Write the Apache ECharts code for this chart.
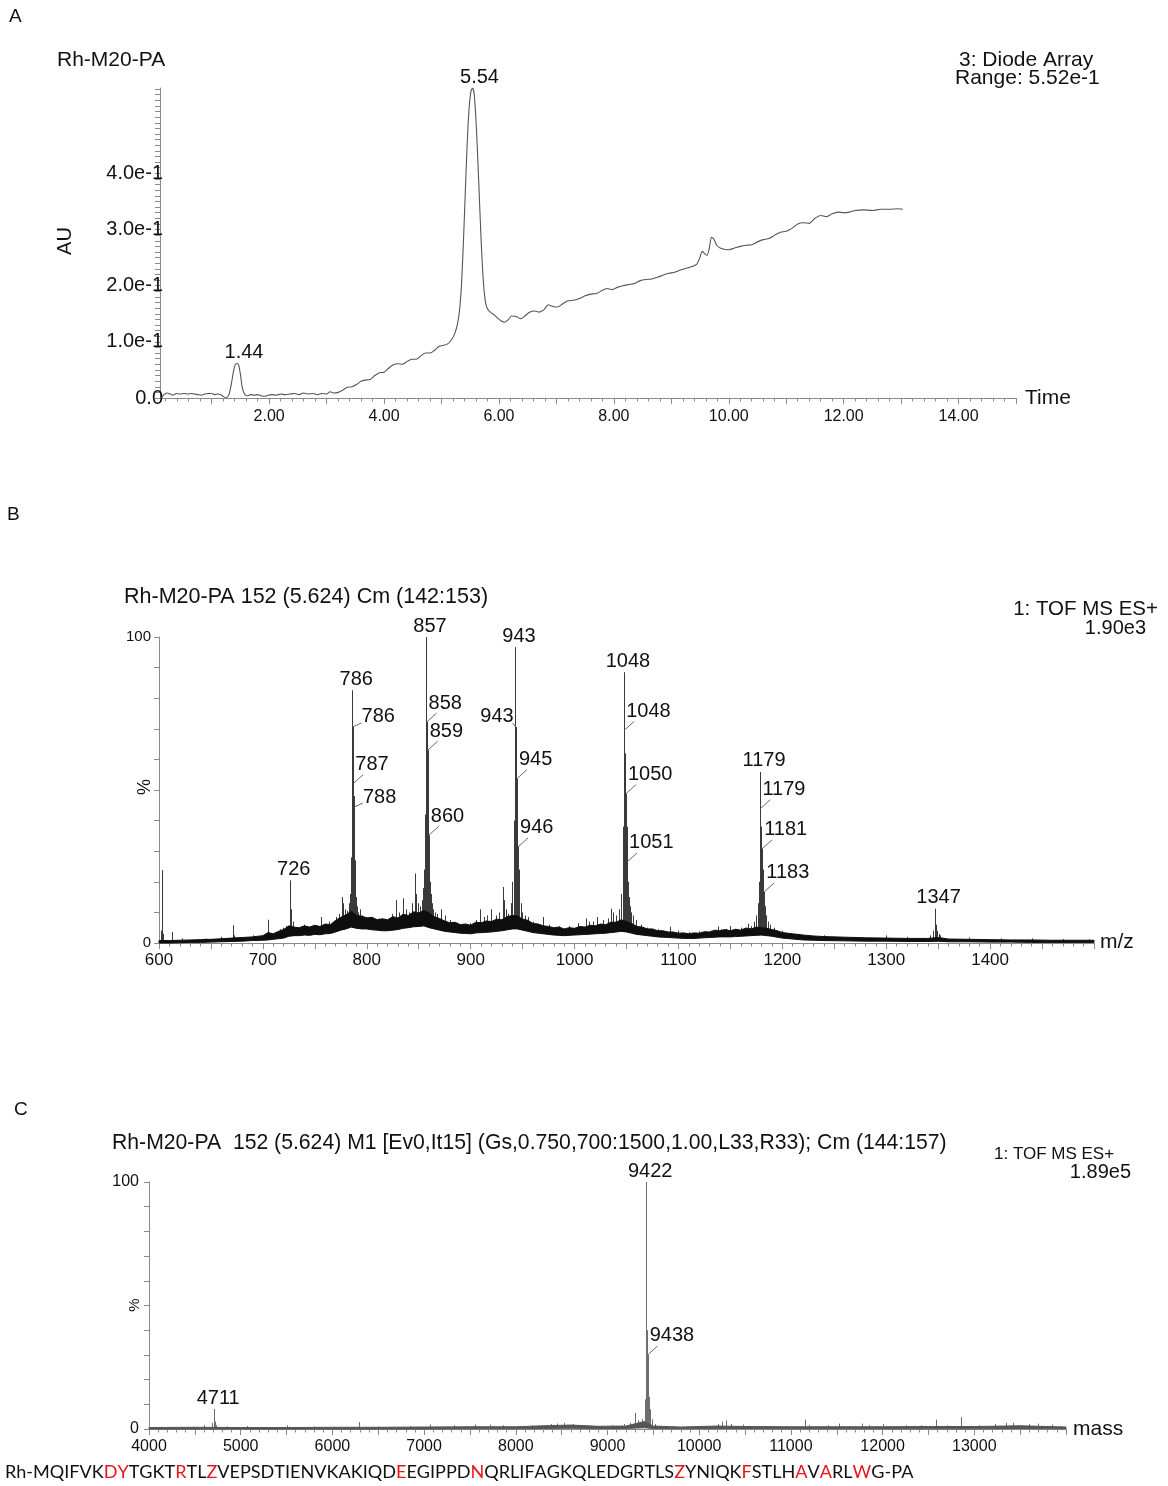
<!DOCTYPE html>
<html>
<head>
<meta charset="utf-8">
<title>Rh-M20-PA LC-MS</title>
<script src="https://cdn.jsdelivr.net/npm/echarts@6/dist/echarts.min.js"></script>
<style>
  html, body { margin: 0; padding: 0; background: #ffffff; }
  #main { width: 1168px; height: 1486px; }
</style>
</head>
<body>
<div id="main"></div>
<script>
// ---------- Panel A: UV chromatogram (time / min, absorbance / AU) ----------
const chromTime = [0.12,0.17,0.22,0.28,0.33,0.38,0.45,0.52,0.58,0.64,0.70,0.76,0.82,0.88,0.94,1.00,1.05,1.10,1.16,1.21,1.26,1.30,1.34,1.38,1.41,1.44,1.47,1.50,1.53,1.57,1.62,1.68,1.74,1.80,1.86,1.92,1.98,2.05,2.12,2.20,2.28,2.36,2.44,2.52,2.60,2.68,2.76,2.84,2.92,3.00,3.06,3.12,3.20,3.28,3.36,3.44,3.52,3.60,3.68,3.76,3.84,3.92,4.00,4.08,4.16,4.24,4.32,4.40,4.48,4.56,4.64,4.72,4.80,4.88,4.96,5.04,5.10,5.16,5.22,5.27,5.31,5.35,5.39,5.43,5.47,5.51,5.54,5.57,5.61,5.65,5.69,5.73,5.77,5.81,5.86,5.92,5.98,6.04,6.10,6.16,6.22,6.30,6.38,6.46,6.54,6.62,6.70,6.78,6.86,6.94,7.02,7.10,7.20,7.30,7.40,7.50,7.60,7.70,7.80,7.88,7.97,8.06,8.16,8.26,8.36,8.46,8.56,8.66,8.76,8.86,8.96,9.06,9.16,9.26,9.36,9.44,9.49,9.54,9.58,9.62,9.66,9.70,9.74,9.79,9.85,9.92,10.00,10.10,10.20,10.30,10.40,10.50,10.60,10.70,10.80,10.90,11.00,11.10,11.20,11.30,11.40,11.50,11.60,11.70,11.80,11.90,12.00,12.10,12.20,12.35,12.50,12.65,12.80,12.95,13.03];
const chromAU = [0.000,0.006,0.009,0.007,0.005,0.008,0.007,0.008,0.007,0.008,0.007,0.006,0.005,0.007,0.008,0.008,0.006,0.007,0.006,0.002,0.001,0.006,0.024,0.048,0.059,0.062,0.058,0.042,0.020,0.007,0.004,0.006,0.005,0.006,0.004,0.003,0.005,0.006,0.005,0.007,0.006,0.007,0.008,0.006,0.009,0.007,0.008,0.006,0.008,0.007,0.011,0.009,0.010,0.014,0.019,0.020,0.024,0.030,0.032,0.033,0.040,0.045,0.046,0.053,0.059,0.061,0.060,0.065,0.069,0.069,0.075,0.080,0.080,0.085,0.092,0.094,0.096,0.102,0.112,0.128,0.152,0.205,0.300,0.410,0.500,0.545,0.552,0.540,0.475,0.380,0.280,0.205,0.168,0.157,0.152,0.148,0.142,0.137,0.135,0.139,0.146,0.145,0.141,0.147,0.153,0.155,0.153,0.157,0.166,0.163,0.162,0.167,0.173,0.174,0.177,0.182,0.185,0.186,0.192,0.195,0.193,0.197,0.200,0.202,0.204,0.209,0.211,0.212,0.215,0.219,0.222,0.224,0.228,0.231,0.234,0.238,0.248,0.261,0.257,0.254,0.266,0.286,0.283,0.272,0.267,0.265,0.264,0.267,0.270,0.272,0.273,0.278,0.282,0.284,0.290,0.295,0.297,0.302,0.310,0.312,0.311,0.320,0.325,0.323,0.328,0.331,0.330,0.331,0.334,0.335,0.334,0.336,0.336,0.337,0.336];
const chromPeakTimes = [1.44, 5.54];
const chromRange = 0.552;
const timeTickLabels = [2, 4, 6, 8, 10, 12, 14];
const auTickLabels = [0, 0.1, 0.2, 0.3, 0.4];

// ---------- Panel B: ESI spectrum (m/z, relative intensity %) ----------
// noise floor of the raw spectrum: lower and upper edge of the dense trace
const mzBandMz   = [600,610,620,630,640,650,660,670,680,690,700,705,710,715,720,725,730,735,740,745,750,755,760,765,770,775,780,785,790,795,800,805,810,815,820,825,830,835,840,845,850,855,860,865,870,875,880,885,890,895,900,905,910,915,920,925,930,935,940,945,950,955,960,965,970,975,980,985,990,995,1000,1005,1010,1015,1020,1025,1030,1035,1040,1045,1050,1055,1060,1065,1070,1075,1080,1085,1090,1095,1100,1105,1110,1115,1120,1125,1130,1135,1140,1145,1150,1155,1160,1165,1170,1175,1180,1185,1190,1195,1200,1210,1220,1230,1240,1260,1280,1300,1320,1340,1350,1360,1380,1400,1420,1440,1460,1480,1500];
const mzBandLow  = [0,0,0.1,0.2,0.2,0.3,0.4,0.5,0.6,0.8,0.9,1.0,1.2,1.4,1.6,2.2,2.4,2.4,2.6,2.5,2.8,2.7,3.0,3.1,3.6,4.2,4.6,5.2,4.8,4.6,4.6,4.3,4.2,4.0,4.0,4.2,4.4,4.8,5.0,5.3,5.4,5.6,5.0,4.6,4.2,3.8,3.6,3.4,3.2,3.1,3.0,3.3,3.4,3.5,3.6,3.8,4.0,4.3,4.6,4.6,4.2,3.8,3.4,3.2,3.0,2.8,2.6,2.5,2.4,2.5,2.6,2.7,2.8,2.9,3.0,3.1,3.2,3.4,3.6,3.8,3.6,3.2,2.8,2.6,2.4,2.2,2.0,1.9,1.8,1.7,1.6,1.5,1.5,1.5,1.6,1.7,1.8,1.9,2.0,2.0,2.0,2.1,2.2,2.3,2.4,2.5,2.6,2.4,2.2,1.9,1.6,1.3,1.0,0.9,0.8,0.7,0.6,0.6,0.5,0.5,0.6,0.4,0.4,0.3,0.3,0.2,0.2,0.2,0.2];
const mzBandHigh = [0.8,0.8,0.9,1.0,1.1,1.2,1.4,1.6,1.8,2.0,2.4,3.4,3.0,3.8,4.4,5.6,5.2,5.0,5.6,5.2,5.8,5.4,6.2,6.0,7.4,8.4,9.2,10.4,9.0,8.8,8.2,8.4,7.6,7.9,7.6,8.6,8.2,9.4,9.0,10.2,9.8,10.6,9.8,8.6,8.0,7.2,6.6,6.8,6.0,6.2,5.8,6.8,6.6,7.2,7.0,7.8,7.6,8.6,9.0,8.8,7.8,7.4,6.4,6.2,5.6,5.4,5.0,5.2,4.6,5.0,4.8,5.4,5.2,5.8,5.6,6.2,6.0,6.8,6.8,7.6,7.0,6.4,5.4,5.2,4.6,4.6,4.0,4.0,3.6,3.6,3.2,3.3,3.0,3.3,3.2,3.7,3.6,4.2,4.0,4.4,4.0,4.5,4.2,4.9,4.6,5.2,5.0,4.8,4.4,4.0,3.4,3.0,2.6,2.3,2.1,1.9,1.7,1.6,1.5,1.5,1.8,1.3,1.2,1.1,1.0,1.0,0.9,0.9,0.9];
// resolved peaks (centroid m/z, relative intensity %)
const mzPeakMz  = [601.6,602.6,603.2,604,612.8,622,645,660,671.6,672.5,690,704.6,705.5,716,719,722,725.8,726.6,727.5,729,740,745,755.6,764,770,773,775.8,777,779,781,783,784.2,785,785.5,786.0,786.3,786.6,787.0,787.3,787.6,788.0,788.5,789.0,789.6,790.5,791.5,793,795,799,805,812,818,824,828,831,835,838,841,844,846.5,847.3,849,851,853,854.5,855.5,856.3,857.0,857.3,857.6,858.0,858.6,859.0,859.3,859.7,860.2,860.8,861.5,862.5,864,866,868,871.5,875,880,886,893,899,905,909,913,916,920,924,927,930.7,932,934,936,938.5,940,941.3,942.0,942.7,943.0,943.3,943.8,944.5,945.0,945.6,946.2,947,948,949.5,952,955,960,969.6,975,985,995,1003,1011,1014,1018,1022,1027,1032,1035,1037,1040,1043,1045,1046.2,1046.9,1047.5,1047.8,1048.2,1048.8,1049.5,1050.0,1050.6,1051.2,1052,1053,1054.5,1056,1059,1064,1070,1080,1091.8,1100,1110,1120,1130,1137.7,1141,1146,1150,1155,1160,1166.6,1170,1173,1175,1176.5,1177.5,1178.6,1178.9,1179.3,1179.8,1180.6,1181.2,1181.8,1182.6,1183.5,1184.5,1186,1188,1192,1200,1215,1240,1270,1300,1320,1342,1345,1346.5,1347.2,1348,1349,1350.5,1352,1380,1410,1440,1470,1495];
const mzPeakInt = [4,23.8,10,3,3.6,1.5,1.5,2,5.8,2.5,2.5,7.6,3,4.5,5,5.5,20.5,11,8,7,6,5.5,8.5,7,8.5,9.5,15,13,11,10.5,13,16,28,35,82.6,70.6,60,52.1,48,44.4,36,27,20,15,12,10,11,9,8.5,8.5,8,7.5,9.5,14,10,14.6,11,10,13,22.7,16,13,12,14,18,24,42,100,85,72.2,68,63.0,50,42,35.2,27,20,16,13,11,10,9.5,11,9,7.5,6.5,6,6.5,7.5,11,8.5,9,11,9,10,18.3,14,11,9.5,13,20,28,40,96.7,82,70.6,62,53.7,45,31.4,24,18,13,10,9,8.5,7,8.5,6,5.5,5.5,6.5,8,7,7,8.5,7.5,8,11.2,10,9,11,16,25,38,88.5,69.5,62,55,48.8,38,26.5,20,15,12,10,9,7.5,6,5,4.5,5.3,4,3.5,3.8,4,5.4,4.5,4.5,5.5,4.5,5,6.3,5.5,7,9,13,20,55.9,43.9,38,34,30.8,24,20,16.7,12,9,7,6,5,4,3,2.5,2,2.5,2,2.5,4,11.2,7,6,4,3,2.5,1.8,1.5,1.5,1.3,1.2];
const mzLabelMz    = [725.8,786.0,786.3,787.0,787.6,857.0,857.6,858.6,859.7,942.7,943.3,944.5,945.6,1047.5,1047.8,1049.5,1050.6,1178.6,1178.9,1180.6,1182.6,1346.5];
const mzLabelPlace = ['top','top','near','far','near','top','far','far','far','top','left','far','far','top','far','far','far','top','far','far','far','top'];
const mzTickLabels = [600, 700, 800, 900, 1000, 1100, 1200, 1300, 1400];

// ---------- Panel C: deconvoluted mass spectrum (Da, relative intensity %) ----------
const massBandMass = [4000,4500,5000,5500,6000,6500,7000,7500,8000,8300,8600,8900,9200,9400,9500,9800,10200,10500,11000,11500,12000,12500,13000,13500,14000];
const massBandLow  = [0,0,0,0,0,0,0,0.1,0.1,0.2,0.3,0.2,0.2,0.5,0.2,0.1,0.2,0.2,0.1,0.1,0.1,0.1,0.1,0.2,0.1];
const massBandHigh = [0.6,0.7,0.6,0.6,0.7,0.7,0.8,0.9,0.9,1.3,1.6,1.1,1.2,3.0,1.2,0.8,1.2,1.0,0.9,0.9,0.9,1.0,1.0,1.3,0.8];
const massPeakMass = [4600,4690,4711,4718,4730,4850,5070,5500,5800,6290,6500,6850,7060,7330,7550,7720,7860,8180,8380,8450,8530,8620,8700,8900,9050,9180,9240,9300,9330,9380,9405,9415,9422,9430,9438,9446,9455,9468,9485,9520,9600,10200,10250,10290,10350,10480,10640,10900,11150,11200,11400,11520,11780,11850,12000,12250,12420,12580,12700,12860,13050,13230,13350,13420,13600,13700,13850,13950];
const massPeakInt  = [1.5,2.5,8.1,3,1.5,1,1.2,1.5,1,2.8,1,1.2,1.8,1.5,1.8,1.8,1.5,1.5,2,2.2,2.5,2,1.5,1.2,1.5,2,2.5,6.5,3.5,4,12,16,100,40,30,20,13,8,4,2,1,2,3,3.5,2,1.8,1.2,1,3.8,1.5,1.5,2.2,2.2,1.5,2,1.5,1.5,3.8,1.5,4.8,1.5,2,2.5,2.5,2,2.2,1.8,1.2];
const massLabelMass  = [4711, 9422, 9438];
const massLabelPlace = ['top', 'top', 'far'];
const massTickLabels = [4000, 5000, 6000, 7000, 8000, 9000, 10000, 11000, 12000, 13000];

// ---------- Sequence line ----------
const seqPrefix = 'Rh-';
const seqResidues = 'MQIFVKDYTGKTRTLZVEPSDTIENVKAKIQDEEGIPPDNQRLIFAGKQLEDGRTLSZYNIQKFSTLHAVARLWG';
const seqSuffix = '-PA';
const seqRedPositions = [7, 8, 13, 16, 33, 40, 58, 64, 69, 71, 74];

// ---------- drawing helpers ----------
const FONT = '"Liberation Sans", Arial, Helvetica, sans-serif';
const INK = '#111111';
const AXIS = '#8a8a8a';

function steps(a, b, step) {
  const out = [];
  for (let i = 0; a + i * step <= b + 1e-9; i++) out.push(+(a + i * step).toFixed(4));
  return out;
}
function pairs(xs, ys) { return xs.map((x, i) => [x, ys[i]]); }

// lower edge of the noise floor under a given x (used as the foot of each peak line)
function floorAt(xs, lo, x) {
  if (x <= xs[0]) return lo[0];
  for (let i = 1; i < xs.length; i++) {
    if (x <= xs[i]) {
      const f = (x - xs[i - 1]) / (xs[i] - xs[i - 1]);
      return lo[i - 1] + f * (lo[i] - lo[i - 1]);
    }
  }
  return lo[lo.length - 1];
}

const labelStyles = {
  topA: { tx: 7, ty: -11, align: 'center' },
  top:  { tx: 4, ty: -11, align: 'center' },
  near: { tx: 9, ty: -10, align: 'left', lx: 9, ly: -4 },
  far:  { tx: 2, ty: -19, align: 'left', lx: 10, ly: -9 },
  left: { tx: -2, ty: -10, align: 'right', lx: -3, ly: -4 }
};

function annotationSeries(xi, yi, xs, ys, texts, places, fontSize) {
  return {
    type: 'custom', xAxisIndex: xi, yAxisIndex: yi, silent: true, clip: false, z: 5,
    data: pairs(xs, ys),
    renderItem(params, api) {
      const st = labelStyles[places[params.dataIndex]];
      const p = api.coord([api.value(0), api.value(1)]);
      const children = [{
        type: 'text', x: p[0] + st.tx, y: p[1] + st.ty,
        style: { text: texts[params.dataIndex], fontSize, fontFamily: FONT, fill: INK, align: st.align, verticalAlign: 'middle' }
      }];
      if (st.lx !== undefined) {
        children.push({ type: 'line', shape: { x1: p[0], y1: p[1], x2: p[0] + st.lx, y2: p[1] + st.ly }, style: { stroke: '#6a6a6a', lineWidth: 1 } });
      }
      return { type: 'group', children };
    }
  };
}

function bandSeries(xi, yi, xs, lo, hi, color) {
  return {
    type: 'custom', xAxisIndex: xi, yAxisIndex: yi, silent: true, z: 3,
    data: [[xs[0], lo[0]]],
    renderItem(params, api) {
      const pts = [];
      for (let i = 0; i < xs.length; i++) pts.push(api.coord([xs[i], hi[i]]));
      for (let i = xs.length - 1; i >= 0; i--) pts.push(api.coord([xs[i], lo[i]]));
      return { type: 'polygon', shape: { points: pts }, style: { fill: color, stroke: color, lineWidth: 1 } };
    }
  };
}

function stickSeries(xi, yi, xs, ys, bandXs, bandLo, color) {
  return {
    type: 'custom', xAxisIndex: xi, yAxisIndex: yi, silent: true, z: 2,
    data: pairs(xs, ys),
    renderItem(params, api) {
      const v = api.value(0);
      const a = api.coord([v, floorAt(bandXs, bandLo, v)]);
      const b = api.coord([v, api.value(1)]);
      const x = Math.round(a[0]) + 0.5;
      return { type: 'line', shape: { x1: x, y1: a[1], x2: x, y2: b[1] }, style: { stroke: color, lineWidth: 1 } };
    }
  };
}

function valueXAxis(grid, min, max, labels, majorTicks, labelSize, fmt, margin) {
  return {
    type: 'value', gridIndex: grid, min, max, position: 'bottom',
    axisLine: { show: true, lineStyle: { color: AXIS, width: 1 } },
    axisTick: { show: true, length: 6, lineStyle: { color: AXIS }, customValues: majorTicks },
    axisLabel: { show: true, customValues: labels, formatter: fmt, fontSize: labelSize, fontFamily: FONT, color: INK, margin },
    splitLine: { show: false }
  };
}
function minorXAxis(grid, min, max, ticks) {
  return {
    type: 'value', gridIndex: grid, min, max, position: 'bottom',
    axisLine: { show: false },
    axisTick: { show: true, length: 3.5, lineStyle: { color: AXIS }, customValues: ticks },
    axisLabel: { show: false },
    splitLine: { show: false }
  };
}
function valueYAxis(grid, min, max, labels, ticks, labelSize, fmt, margin) {
  return {
    type: 'value', gridIndex: grid, min, max, position: 'left',
    axisLine: { show: true, lineStyle: { color: AXIS, width: 1 } },
    axisTick: { show: true, length: 5, lineStyle: { color: AXIS }, customValues: ticks },
    axisLabel: { show: true, customValues: labels, formatter: fmt, fontSize: labelSize, fontFamily: FONT, color: INK, margin },
    splitLine: { show: false }
  };
}

function txt(text, x, y, size, align, rotation) {
  return {
    type: 'text', x, y, rotation: rotation || 0, silent: true,
    style: { text, fontSize: size, fontFamily: FONT, fill: INK, align: align || 'left', verticalAlign: 'middle' }
  };
}

// label texts and anchor values, taken from the marks themselves
const chromLabelAU = chromPeakTimes.map(t => chromAU[chromTime.indexOf(t)]);
const chromLabelText = chromPeakTimes.map(t => t.toFixed(2));
const mzLabelInt = mzLabelMz.map(m => mzPeakInt[mzPeakMz.indexOf(m)]);
const mzLabelText = mzLabelMz.map(m => String(Math.round(m)));
const massLabelInt = massLabelMass.map(m => massPeakInt[massPeakMass.indexOf(m)]);
const massLabelText = massLabelMass.map(m => String(Math.round(m)));

// sequence as rich text, with highlighted residues in red
function sequenceRich() {
  let out = '{k|' + seqPrefix + '}';
  for (let i = 0; i < seqResidues.length; i++) {
    const style = seqRedPositions.indexOf(i + 1) >= 0 ? 'r' : 'k';
    out += '{' + style + '|' + seqResidues[i] + '}';
  }
  return out + '{k|' + seqSuffix + '}';
}
const SEQ_FONT = 'Lato, "Open Sans", sans-serif';
function fitFontSize(text, family, width) {
  const ctx = document.createElement('canvas').getContext('2d');
  ctx.font = '100px ' + family;
  return 100 * width / ctx.measureText(text).width;
}
const seqSize = fitFontSize(seqPrefix + seqResidues + seqSuffix, SEQ_FONT, 900);

const chart = echarts.init(document.getElementById('main'), null, { renderer: 'canvas' });

const option = {
  animation: false,
  backgroundColor: '#ffffff',
  grid: [
    { left: 160, top: 88, width: 856, height: 310 },
    { left: 159, top: 637, width: 935, height: 306 },
    { left: 149, top: 1182, width: 917, height: 247 }
  ],
  xAxis: [
    valueXAxis(0, 0.1, 15, timeTickLabels, steps(1, 15, 1), 16, v => v.toFixed(2), 11),
    minorXAxis(0, 0.1, 15, steps(0.2, 15, 0.2)),
    valueXAxis(1, 600, 1500, mzTickLabels, steps(600, 1500, 50), 17, v => String(v), 9),
    minorXAxis(1, 600, 1500, steps(600, 1500, 10)),
    valueXAxis(2, 4000, 14000, massTickLabels, steps(4000, 14000, 500), 16, v => String(v), 10),
    minorXAxis(2, 4000, 14000, steps(4000, 14000, 100))
  ],
  yAxis: [
    valueYAxis(0, 0, chromRange, auTickLabels, steps(0, 0.55, 0.01), 20,
      v => (v === 0 ? '0.0' : (v * 10).toFixed(1) + 'e-1'), -3),
    valueYAxis(1, 0, 100, [0, 100], steps(0, 100, 10), 15, v => String(v), 8),
    valueYAxis(2, 0, 100, [0, 100], steps(0, 100, 10), 16, v => String(v), 10)
  ],
  series: [
    {
      type: 'line', xAxisIndex: 0, yAxisIndex: 0, data: pairs(chromTime, chromAU),
      showSymbol: false, smooth: 0.25, silent: true,
      lineStyle: { color: '#555555', width: 1.1 }
    },
    annotationSeries(0, 0, chromPeakTimes, chromLabelAU, chromLabelText, ['topA', 'topA'], 20),

    bandSeries(2, 1, mzBandMz, mzBandLow, mzBandHigh, '#0e0e0e'),
    stickSeries(2, 1, mzPeakMz, mzPeakInt, mzBandMz, mzBandLow, '#3a3a3a'),
    annotationSeries(2, 1, mzLabelMz, mzLabelInt, mzLabelText, mzLabelPlace, 20),

    bandSeries(4, 2, massBandMass, massBandLow, massBandHigh, '#555555'),
    stickSeries(4, 2, massPeakMass, massPeakInt, massBandMass, massBandLow, '#6e6e6e'),
    annotationSeries(4, 2, massLabelMass, massLabelInt, massLabelText, massLabelPlace, 20)
  ],
  graphic: [
    // panel A
    txt('A', 9, 17, 19),
    txt('Rh-M20-PA', 57, 60, 21),
    txt('3: Diode Array', 959, 60, 21),
    txt('Range: 5.52e-1', 955, 78, 21),
    txt('AU', 65, 241, 20, 'center', Math.PI / 2),
    txt('Time', 1025, 398, 21),
    // panel B
    txt('B', 7, 515, 19),
    txt('Rh-M20-PA 152 (5.624) Cm (142:153)', 124, 597, 21.5),
    txt('1: TOF MS ES+', 1158, 609, 20.5, 'right'),
    txt('1.90e3', 1146, 628, 20, 'right'),
    txt('%', 145, 787, 18, 'center', Math.PI / 2),
    txt('m/z', 1100, 942, 21),
    // panel C
    txt('C', 14, 1110, 19),
    txt('Rh-M20-PA  152 (5.624) M1 [Ev0,It15] (Gs,0.750,700:1500,1.00,L33,R33); Cm (144:157)', 112, 1143, 21.2),
    txt('1: TOF MS ES+', 994, 1154, 17),
    txt('1.89e5', 1131, 1172, 20, 'right'),
    txt('%', 135, 1305, 15, 'center', Math.PI / 2),
    txt('mass', 1073, 1429, 21),
    {
      type: 'text', x: 5, y: 1472, silent: true,
      style: {
        text: sequenceRich(), verticalAlign: 'middle', align: 'left',
        rich: {
          k: { fill: '#111111', fontSize: seqSize, fontFamily: SEQ_FONT },
          r: { fill: '#e8141b', fontSize: seqSize, fontFamily: SEQ_FONT }
        }
      }
    }
  ]
};

chart.setOption(option);
</script>
</body>
</html>
